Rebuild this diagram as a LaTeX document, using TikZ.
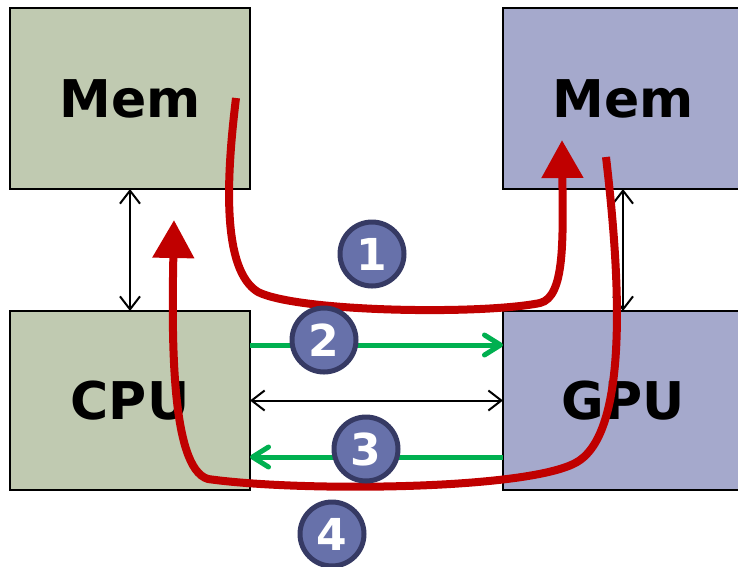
\documentclass[tikz,border=0pt]{standalone}
\usepackage{fontspec}
\setmainfont{DejaVu Sans}
\usetikzlibrary{arrows.meta}
\definecolor{cpug}{RGB}{192,202,177}
\definecolor{gpub}{RGB}{165,169,204}
\definecolor{redc}{RGB}{192,0,0}
\definecolor{greenc}{RGB}{0,176,80}
\definecolor{bluec}{RGB}{103,113,170}
\definecolor{bluer}{RGB}{54,58,100}
\tikzset{x=1pt,y=-1pt,
 box/.style={draw=black,line width=2.2pt,inner sep=0pt,outer sep=0pt,minimum width=240pt,anchor=north west,font=\bfseries\fontsize{52}{52}\selectfont},
 thin arrow/.style={black,line width=2pt,{Straight Barb[length=13pt,width=20pt,line width=2pt]}-{Straight Barb[length=13pt,width=20pt,line width=2pt]}},
 green arrow/.style={greenc,line width=5pt,-{Straight Barb[length=16pt,width=20pt,line width=5pt,round]}},
 red arrow/.style={redc,line width=8pt,-{Triangle[length=38pt,width=40pt]}},
 badge/.style={circle,draw=bluer,fill=bluec,line width=5pt,minimum size=64pt,inner sep=0pt,text=white,font=\bfseries\fontsize{44}{44}\selectfont}}
\begin{document}
\begin{tikzpicture}
\useasboundingbox (0,0) rectangle (738,566);
\node[box,fill=cpug,minimum height=181pt] (m1) at (10,8) {Mem};
\node[box,fill=gpub,minimum height=181pt] (m2) at (503,8) {Mem};
\node[box,fill=cpug,minimum height=179pt] (c) at (10,311) {CPU};
\node[box,fill=gpub,minimum height=179pt] (g) at (503,311) {GPU};
\draw[thin arrow] (m1.south) -- (c.north);
\draw[thin arrow] (m2.south) -- (g.north);
\draw[thin arrow] (c.east) -- (g.east -| g.west);
\coordinate (g2a) at (c.north east |- 0,345);
\coordinate (g2b) at (g.north west |- 0,345);
\coordinate (g3a) at (g.north west |- 0,457);
\coordinate (g3b) at (c.north east |- 0,457);
\draw[green arrow] (g2a) -- (g2b);
\draw[green arrow] (g3a) -- (g3b);
\coordinate (r1s) at (236,98);
\coordinate (r1e) at (562,140);
\coordinate (r2s) at (606,157);
\coordinate (r2e) at (174,220);
\draw[red arrow] (r1s) .. controls (226,180) and (222,270) .. (258,292) .. controls (298,312) and (480,315) .. (540,303) .. controls (565,297) and (563,240) .. (r1e);
\draw[red arrow] (r2s) .. controls (618,260) and (632,430) .. (577,462) .. controls (530,490) and (300,492) .. (208,479) .. controls (170,468) and (172,330) .. (r2e);
\node[badge] (b1) at (372,254) {1};
\node[badge] (b2) at (324,340) {2};
\node[badge] (b3) at (366,449) {3};
\node[badge] (b4) at (332,534) {4};
\end{tikzpicture}
\end{document}
